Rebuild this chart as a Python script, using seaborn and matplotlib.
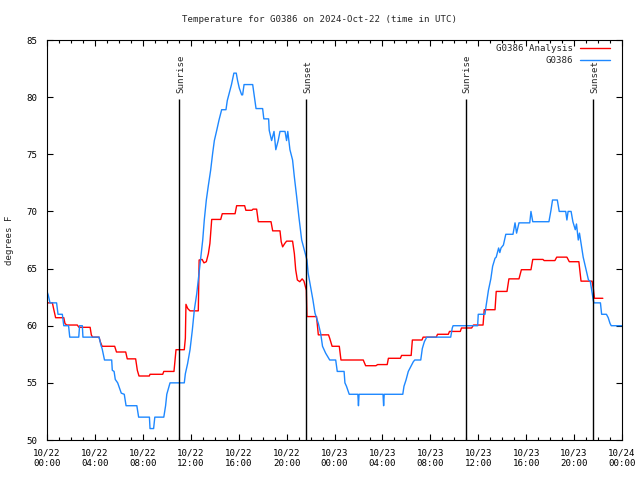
import matplotlib
matplotlib.use("Agg")
import matplotlib.pyplot as plt
import seaborn as sns
import numpy as np

# hours since 2024-10-22 00:00 UTC, degrees F
blue_hours = [0.0, 0.1, 0.2, 0.25, 0.8, 0.92, 1.28, 1.4, 1.8, 1.9, 2.65, 2.72, 2.95, 3.0, 4.35,
              4.5, 4.6, 4.8, 5.4, 5.45, 5.6, 5.7, 5.9, 6.2, 6.45, 6.6, 7.5, 7.65, 8.55, 8.6,
              8.9, 9.0, 9.75, 9.9, 10.0, 10.27, 11.46, 11.55, 11.74, 11.94, 12.13, 12.3, 12.5,
              12.63, 13.0, 13.13, 13.3, 13.46, 13.66, 13.83, 13.97, 14.17, 14.36, 14.58, 14.94,
              15.05, 15.2, 15.4, 15.6, 15.8, 15.9, 16.05, 16.25, 16.33, 16.45, 17.17, 17.28,
              17.45, 18.0, 18.1, 18.5, 18.55, 18.75, 18.95, 19.1, 19.3, 19.45, 19.87, 20.0,
              20.1, 20.28, 20.5, 20.65, 20.84, 21.03, 21.26, 21.7, 21.8, 22.0, 22.2, 22.37,
              22.65, 22.85, 23.0, 23.26, 23.6, 24.1, 24.23, 24.8, 24.87, 25.0, 25.23, 25.95,
              26.0, 26.05, 28.05, 28.1, 28.15, 29.7, 29.8, 29.97, 30.16, 30.58, 30.7, 31.2,
              31.33, 31.5, 31.7, 33.7, 33.83, 33.9, 35.95, 36.0, 36.56, 36.65, 36.85, 37.05,
              37.2, 37.4, 37.5, 37.7, 37.8, 37.9, 38.1, 38.3, 38.9, 39.07, 39.2, 39.4, 39.6,
              40.3, 40.4, 40.55, 41.9, 42.07, 42.2, 42.6, 42.76, 43.3, 43.4, 43.5, 43.75,
              43.9, 44.1, 44.2, 44.35, 44.45, 44.6, 44.76, 45.0, 45.2, 45.35, 45.47, 45.6,
              45.65, 46.2, 46.3, 46.7, 46.85, 47.0, 47.1, 48.0]
blue_temps = [63, 62.7, 62.25, 62, 62, 61, 61, 60, 60, 59, 59, 60, 60, 59, 59,
              58.3, 58, 57, 57, 56.1, 56, 55.3, 55, 54.1, 54, 53, 53, 52, 52, 51,
              51, 52, 52, 53, 54, 55, 55, 55.8, 56.7, 57.9, 59.6, 61.4, 62.8,
              64, 67.5, 69.25, 71, 72.2, 73.6, 75.1, 76.2, 77.1, 78, 78.9, 78.9,
              79.7, 80.3, 81.1, 82.1, 82.1, 81.5, 80.8, 80.2, 80.2, 81.1, 81.1, 80.3,
              79, 79, 78.1, 78.1, 77.1, 76.2, 77, 75.4, 76.2, 77, 77, 76.2,
              77, 75.4, 74.5, 73, 71.3, 69.5, 67.5, 65.75, 64.6, 63.4, 62.25, 61.1,
              60.2, 59.3, 58.2, 57.6, 57, 57, 56, 56, 55, 54.7, 54, 54,
              53, 54, 54, 53, 54, 54, 54.7, 55.25, 56, 56.85, 57, 57,
              58, 58.6, 59, 59, 59.8, 60, 60, 61, 61, 61.7, 63.1, 64.1,
              65.2, 65.9, 66, 66.8, 66.4, 66.8, 67.06, 68, 68, 69, 68.1, 69, 69,
              69, 70, 69.1, 69.1, 70.1, 71, 71, 70, 70, 69.25, 70, 70,
              69.1, 68.4, 68.9, 67.5, 68.1, 67.06, 66, 64.9, 64, 63.9, 63.1, 62.25,
              62, 62, 61, 61, 60.7, 60.2, 60, 60]

red_hours = [0.0, 0.45, 0.55, 0.72, 1.4, 1.5, 1.64, 2.53, 2.67, 3.6, 3.7, 3.8, 4.34, 4.45,
             4.6, 5.65, 5.8, 6.57, 6.7, 7.4, 7.54, 7.68, 8.54, 8.6, 9.66, 9.75, 10.6, 10.77,
             11.46, 11.55, 11.6, 11.75, 11.94, 12.63, 12.7, 12.95, 13.1, 13.3, 13.47, 13.6,
             13.75, 14.5, 14.63, 15.7, 15.83, 16.5, 16.6, 17.1, 17.2, 17.5, 17.64, 18.7,
             18.84, 19.45, 19.55, 19.67, 19.85, 20.0, 20.5, 20.65, 20.76, 20.9, 21.1, 21.3,
             21.45, 21.65, 21.7, 22.5, 22.65, 23.5, 23.6, 23.8, 24.4, 24.54, 26.4, 26.6,
             27.46, 27.6, 28.4, 28.5, 29.5, 29.6, 30.4, 30.5, 31.3, 31.4, 32.5, 32.6, 33.5,
             33.6, 34.5, 34.6, 35.45, 35.6, 36.4, 36.5, 37.4, 37.5, 38.4, 38.56, 39.4, 39.6,
             40.4, 40.55, 41.4, 41.5, 42.4, 42.55, 43.4, 43.6, 44.4, 44.58, 45.5, 45.6,
             45.7, 46.4]
red_temps = [62, 62, 61.5, 60.7, 60.7, 60.2, 60.06, 60.06, 59.86, 59.86, 59.2, 59, 59, 58.6,
             58.2, 58.2, 57.7, 57.7, 57.1, 57.1, 56.1, 55.6, 55.6, 55.75, 55.75, 56, 56, 57.9,
             57.9, 58.9, 61.87, 61.5, 61.3, 61.3, 65.75, 65.8, 65.5, 65.6, 66.3, 67.2,
             69.3, 69.3, 69.8, 69.8, 70.5, 70.5, 70.1, 70.1, 70.2, 70.2, 69.1, 69.1,
             68.3, 68.3, 67.35, 66.9, 67.2, 67.4, 67.4, 66.3, 64.9, 64, 63.85, 64.1,
             63.9, 63.1, 60.8, 60.8, 59.2, 59.2, 58.9, 58.2, 58.2, 57, 57, 56.5,
             56.5, 56.6, 56.6, 57.15, 57.15, 57.4, 57.4, 58.75, 58.75, 59, 59, 59.25, 59.25,
             59.5, 59.5, 59.8, 59.8, 60.06, 60.06, 61.4, 61.4, 63, 63, 64.1, 64.1, 64.9,
             64.9, 65.8, 65.8, 65.7, 65.7, 66, 66, 65.6, 65.6, 63.9, 63.9, 63.3,
             62.4, 62.4]

event_hours = [11.04, 21.65, 34.97, 45.6]
event_names = ["Sunrise", "Sunset", "Sunrise", "Sunset"]

tick_hours = list(range(0, 49, 4))
tick_labels = ["10/22\n00:00", "10/22\n04:00", "10/22\n08:00", "10/22\n12:00", "10/22\n16:00",
               "10/22\n20:00", "10/23\n00:00", "10/23\n04:00", "10/23\n08:00", "10/23\n12:00",
               "10/23\n16:00", "10/23\n20:00", "10/24\n00:00"]

sns.set_style("ticks")
plt.rcParams['font.family'] = ['DejaVu Sans Mono']
fs = 6.6

fig = plt.figure(figsize=(6.4, 4.8), dpi=100)
ax = fig.add_axes([47/640, 40/480, 575/640, 400/480])

sns.lineplot(x=red_hours, y=red_temps, color="#ff0000", linewidth=1.0, ax=ax,
             label="G0386 Analysis", estimator=None)
sns.lineplot(x=blue_hours, y=blue_temps, color="#1e88ff", linewidth=1.0, ax=ax,
             label="G0386", estimator=None)

for h, name in zip(event_hours, event_names):
    ax.vlines(h, 50, 79.8, color="black", linewidth=1.0)
    ax.text(h + 0.1, 80.4, name, rotation=90, ha="center", va="bottom", fontsize=fs)

ax.set_xlim(0, 48)
ax.set_ylim(50, 85)
ax.set_xticks(tick_hours)
ax.set_xticklabels(tick_labels)
ax.set_xticks(range(0, 49), minor=True)
ax.set_yticks(range(50, 86, 5))
ax.tick_params(which="both", direction="in", top=True, right=True, width=0.8,
               labelsize=fs, colors="black")
ax.tick_params(which="major", length=4)
ax.tick_params(which="minor", length=2)
ax.tick_params(axis="y", pad=7)
ax.tick_params(axis="x", pad=6)
for s in ax.spines.values():
    s.set_linewidth(0.8)
    s.set_color("black")
ax.set_xlabel("")
ax.set_ylabel("")

leg = ax.legend(loc="upper right", bbox_to_anchor=(0.986, 0.999), borderaxespad=0,
                frameon=False, markerfirst=False, fontsize=fs,
                handlelength=3.3, handletextpad=0.8, labelspacing=0.35)

fig.text(0.5, 1 - 19/480, "Temperature for G0386 on 2024-Oct-22 (time in UTC)",
         ha="center", va="center", fontsize=fs)
fig.text(10/640, 0.5, "degrees F", rotation=90, ha="center", va="center", fontsize=fs)

fig.savefig("out.png", dpi=100)
